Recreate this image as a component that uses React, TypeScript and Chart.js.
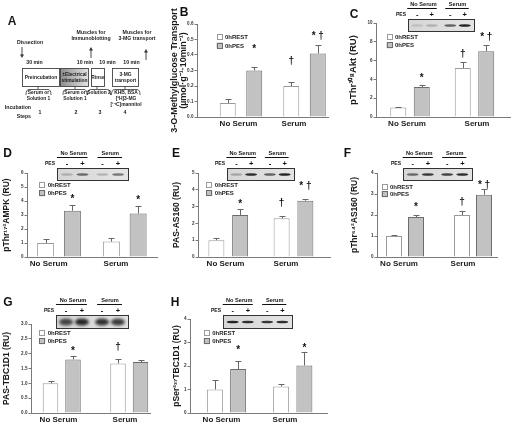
import React, { useEffect, useRef } from "react";
import { Chart, registerables } from "chart.js";
Chart.register(...registerables);

const FONT = "'Liberation Sans', Arial, sans-serif";

const CATEGORIES = ["No Serum", "Serum"];
const SERIES = ["0hREST", "0hPES"];
const PES_SIGNS = ["-", "+", "-", "+"];

// ---- Panel B : 3-O-methylglucose transport
const B_TICKS = ["0.0", "0.1", "0.2", "0.3", "0.4", "0.5", "0.6"];
const B_REST = [0.09, 0.2];
const B_REST_ERR = [0.025, 0.025];
const B_PES = [0.3, 0.41];
const B_PES_ERR = [0.025, 0.055];
const B_REST_SIG = ["", "†"];
const B_PES_SIG = ["*", "* †"];
const B_REST_SIG_AT = [0, 0.37];
const B_PES_SIG_AT = [0.45, 0.53];

// ---- Panel C : pThr308 Akt
const C_TICKS = ["0", "2", "4", "6", "8", "10"];
const C_REST = [1.0, 5.2];
const C_REST_ERR = [0.05, 0.7];
const C_PES = [3.2, 7.0];
const C_PES_ERR = [0.2, 0.7];
const C_REST_SIG = ["", "†"];
const C_PES_SIG = ["*", "* †"];
const C_REST_SIG_AT = [0, 6.8];
const C_PES_SIG_AT = [4.3, 8.6];
const C_BLOT = [0.12, 0.2, 0.6, 0.9];

// ---- Panel D : pThr172 AMPK
const D_TICKS = ["0", "1", "2", "3", "4", "5", "6"];
const D_REST = [1.0, 1.1];
const D_REST_ERR = [0.27, 0.27];
const D_PES = [3.3, 3.1];
const D_PES_ERR = [0.45, 0.55];
const D_REST_SIG = ["", ""];
const D_PES_SIG = ["*", "*"];
const D_REST_SIG_AT = [0, 0];
const D_PES_SIG_AT = [4.25, 4.15];
const D_BLOT = [0.2, 0.55, 0.2, 0.5];

// ---- Panel E : PAS-AS160
const E_TICKS = ["0", "1", "2", "3", "4", "5"];
const E_REST = [1.0, 2.3];
const E_REST_ERR = [0.15, 0.15];
const E_PES = [2.5, 3.35];
const E_PES_ERR = [0.35, 0.12];
const E_REST_SIG = ["", "†"];
const E_PES_SIG = ["*", "* †"];
const E_REST_SIG_AT = [0, 3.3];
const E_PES_SIG_AT = [3.2, 4.3];
const E_BLOT = [0.25, 0.85, 0.6, 0.9];

// ---- Panel F : pThr642 AS160
const F_TICKS = ["0", "1", "2", "3", "4"];
const F_REST = [1.0, 2.0];
const F_REST_ERR = [0.03, 0.2];
const F_PES = [1.9, 2.97];
const F_PES_ERR = [0.12, 0.28];
const F_REST_SIG = ["", "†"];
const F_PES_SIG = ["*", "* †"];
const F_REST_SIG_AT = [0, 2.7];
const F_PES_SIG_AT = [2.45, 3.5];
const F_BLOT = [0.55, 0.8, 0.75, 0.85];

// ---- Panel G : PAS-TBC1D1
const G_TICKS = ["0.0", "0.5", "1.0", "1.5", "2.0", "2.5", "3.0"];
const G_REST = [1.0, 1.67];
const G_REST_ERR = [0.07, 0.15];
const G_PES = [1.8, 1.72];
const G_PES_ERR = [0.13, 0.06];
const G_REST_SIG = ["", "†"];
const G_PES_SIG = ["*", ""];
const G_REST_SIG_AT = [0, 2.26];
const G_PES_SIG_AT = [2.12, 0];
const G_BLOT = [0.75, 0.9, 0.85, 0.8];

// ---- Panel H : pSer237 TBC1D1
const H_TICKS = ["0", "1", "2", "3", "4"];
const H_REST = [1.0, 1.13];
const H_REST_ERR = [0.42, 0.12];
const H_PES = [1.87, 2.02];
const H_PES_ERR = [0.35, 0.58];
const H_REST_SIG = ["", ""];
const H_PES_SIG = ["*", "*"];
const H_REST_SIG_AT = [0, 0];
const H_PES_SIG_AT = [2.75, 2.82];
const H_BLOT = [0.9, 0.85, 0.8, 0.85];

type Blot = { x: number; y: number; w: number; h: number; lanes: number[]; tall?: boolean };
type Panel = {
  letter: string;
  letterAt: [number, number];
  title: string[];
  titleSize: number;
  titleX: number;
  ticks: string[];
  rest: number[];
  restErr: number[];
  pes: number[];
  pesErr: number[];
  restSig: string[];
  pesSig: string[];
  restSigAt: number[];
  pesSigAt: number[];
  box: { L: number; R: number; T: number; B: number };
  bars: { c0: number; c1: number; d: number; w: number };
  labels: [number, number];
  legendAt: [number, number];
  legendGap: number;
  blot?: Blot;
};

const PANELS: Panel[] = [
  {
    letter: "B", letterAt: [184, 13],
    title: ["3-O-Methylglucose Transport", "(µmol·g⁻¹·10min⁻¹)"], titleSize: 9, titleX: 174.5,
    ticks: B_TICKS, rest: B_REST, restErr: B_REST_ERR, pes: B_PES, pesErr: B_PES_ERR,
    restSig: B_REST_SIG, pesSig: B_PES_SIG, restSigAt: B_REST_SIG_AT, pesSigAt: B_PES_SIG_AT,
    box: { L: 197, R: 328, T: 24, B: 117 }, bars: { c0: 241, c1: 304.5, d: 26.5, w: 16 },
    labels: [238.5, 294], legendAt: [219.5, 37], legendGap: 8.5,
  },
  {
    letter: "C", letterAt: [354, 15],
    title: ["pThr³⁰⁸Akt (RU)"], titleSize: 9.5, titleX: 353.5,
    ticks: C_TICKS, rest: C_REST, restErr: C_REST_ERR, pes: C_PES, pesErr: C_PES_ERR,
    restSig: C_REST_SIG, pesSig: C_PES_SIG, restSigAt: C_REST_SIG_AT, pesSigAt: C_PES_SIG_AT,
    box: { L: 376, R: 510, T: 23, B: 117 }, bars: { c0: 410, c1: 474.5, d: 23.5, w: 16 },
    labels: [407, 477], legendAt: [389.5, 37], legendGap: 8.3,
    blot: { x: 408, y: 19, w: 66, h: 12, lanes: C_BLOT },
  },
  {
    letter: "D", letterAt: [7.5, 154],
    title: ["pThr¹⁷²AMPK (RU)"], titleSize: 8.5, titleX: 7,
    ticks: D_TICKS, rest: D_REST, restErr: D_REST_ERR, pes: D_PES, pesErr: D_PES_ERR,
    restSig: D_REST_SIG, pesSig: D_PES_SIG, restSigAt: D_REST_SIG_AT, pesSigAt: D_PES_SIG_AT,
    box: { L: 27, R: 157, T: 173, B: 257 }, bars: { c0: 59, c1: 124.75, d: 26.75, w: 17 },
    labels: [48.7, 116], legendAt: [42.2, 185], legendGap: 8.3,
    blot: { x: 57, y: 168, w: 71, h: 12, lanes: D_BLOT },
  },
  {
    letter: "E", letterAt: [176, 154],
    title: ["PAS-AS160 (RU)"], titleSize: 8.5, titleX: 177,
    ticks: E_TICKS, rest: E_REST, restErr: E_REST_ERR, pes: E_PES, pesErr: E_PES_ERR,
    restSig: E_REST_SIG, pesSig: E_PES_SIG, restSigAt: E_REST_SIG_AT, pesSigAt: E_PES_SIG_AT,
    box: { L: 198, R: 330, T: 173, B: 257 }, bars: { c0: 228.25, c1: 293.5, d: 23.75, w: 16 },
    labels: [225.5, 286], legendAt: [209.3, 185], legendGap: 8,
    blot: { x: 227, y: 168, w: 67, h: 12, lanes: E_BLOT },
  },
  {
    letter: "F", letterAt: [347.5, 154],
    title: ["pThr⁶⁴²AS160 (RU)"], titleSize: 8.5, titleX: 355,
    ticks: F_TICKS, rest: F_REST, restErr: F_REST_ERR, pes: F_PES, pesErr: F_PES_ERR,
    restSig: F_REST_SIG, pesSig: F_PES_SIG, restSigAt: F_REST_SIG_AT, pesSigAt: F_PES_SIG_AT,
    box: { L: 377, R: 497, T: 173, B: 257 }, bars: { c0: 405, c1: 473, d: 22, w: 16 },
    labels: [399, 463], legendAt: [384.5, 186.7], legendGap: 7.5,
    blot: { x: 403, y: 168, w: 69, h: 12, lanes: F_BLOT },
  },
  {
    letter: "G", letterAt: [8, 303],
    title: ["PAS-TBC1D1 (RU)"], titleSize: 8.5, titleX: 7,
    ticks: G_TICKS, rest: G_REST, restErr: G_REST_ERR, pes: G_PES, pesErr: G_PES_ERR,
    restSig: G_REST_SIG, pesSig: G_PES_SIG, restSigAt: G_REST_SIG_AT, pesSigAt: G_PES_SIG_AT,
    box: { L: 31, R: 150, T: 324, B: 413 }, bars: { c0: 61.75, c1: 129.25, d: 22.5, w: 15.5 },
    labels: [58.5, 125], legendAt: [42.2, 332.5], legendGap: 8.7,
    blot: { x: 56, y: 315, w: 72, h: 13, lanes: G_BLOT, tall: true },
  },
  {
    letter: "H", letterAt: [175, 303],
    title: ["pSer²³⁷TBC1D1 (RU)"], titleSize: 8.5, titleX: 177,
    ticks: H_TICKS, rest: H_REST, restErr: H_REST_ERR, pes: H_PES, pesErr: H_PES_ERR,
    restSig: H_REST_SIG, pesSig: H_PES_SIG, restSigAt: H_REST_SIG_AT, pesSigAt: H_PES_SIG_AT,
    box: { L: 190, R: 327, T: 319, B: 413 }, bars: { c0: 226.5, c1: 292.75, d: 23.25, w: 16 },
    labels: [221.5, 285], legendAt: [206.7, 332.5], legendGap: 8.7,
    blot: { x: 223, y: 315, w: 69, h: 13, lanes: H_BLOT },
  },
];

const REST_FILL = "#ffffff";
const REST_LINE = "#9a9a9a";
const PES_FILL = "#c2c2c2";
const PES_LINE = "#6c6c6c";
const AXIS = "#7a7a7a";

function decor(p: Panel) {
  return {
    id: "decor" + p.letter,
    afterDatasetsDraw(chart: any) {
      const ctx: CanvasRenderingContext2D = chart.ctx;
      const ys = chart.scales.y;
      const sets: [number[], number[], string[], number[]][] = [
        [p.rest, p.restErr, p.restSig, p.restSigAt],
        [p.pes, p.pesErr, p.pesSig, p.pesSigAt],
      ];
      ctx.save();
      sets.forEach(([vals, errs, sig, at], di) => {
        const meta = chart.getDatasetMeta(di);
        meta.data.forEach((el: any, j: number) => {
          const x = Math.round(el.x) + 0.5;
          const top = Math.round(ys.getPixelForValue(vals[j] + errs[j])) + 0.5;
          ctx.strokeStyle = "#666";
          ctx.lineWidth = 1;
          ctx.beginPath();
          ctx.moveTo(x, el.y);
          ctx.lineTo(x, top);
          ctx.moveTo(x - 3, top);
          ctx.lineTo(x + 3, top);
          ctx.stroke();
          if (sig[j]) {
            ctx.fillStyle = "#111";
            ctx.font = `bold 10px ${FONT}`;
            ctx.textAlign = "center";
            ctx.textBaseline = "middle";
            ctx.fillText(sig[j], el.x, ys.getPixelForValue(at[j]) + 1.5);
          }
        });
      });
      ctx.restore();
    },
    afterDraw(chart: any) {
      const ctx: CanvasRenderingContext2D = chart.ctx;
      ctx.save();
      // blot + header
      if (p.blot) {
        const b = p.blot;
        const lanes = [0.14, 0.36, 0.64, 0.86].map((f) => b.x + f * b.w);
        ctx.fillStyle = "#111";
        ctx.font = `bold 5.6px ${FONT}`;
        ctx.textAlign = "center";
        ctx.textBaseline = "middle";
        ctx.fillText(CATEGORIES[0], (lanes[0] + lanes[1]) / 2 - 1, b.y - 15);
        ctx.fillText(CATEGORIES[1], (lanes[2] + lanes[3]) / 2, b.y - 15);
        ctx.strokeStyle = "#111";
        ctx.lineWidth = 1;
        ctx.beginPath();
        ctx.moveTo(lanes[0] - 10, b.y - 10.5);
        ctx.lineTo(lanes[1] + 5, b.y - 10.5);
        ctx.moveTo(lanes[2] - 5, b.y - 10.5);
        ctx.lineTo(lanes[3] + 4, b.y - 10.5);
        ctx.stroke();
        ctx.font = `bold 5px ${FONT}`;
        ctx.textAlign = "right";
        ctx.fillText("PES", b.x - 2, b.y - 4);
        ctx.font = `bold 7.5px ${FONT}`;
        ctx.textAlign = "center";
        PES_SIGNS.forEach((s, i) => ctx.fillText(s, lanes[i], b.y - 4.5));
        // film
        const g = ctx.createLinearGradient(b.x, 0, b.x + b.w, 0);
        g.addColorStop(0, "#d6d6d6");
        g.addColorStop(1, "#e4e4e4");
        ctx.fillStyle = g;
        ctx.fillRect(b.x, b.y, b.w, b.h);
        ctx.save();
        ctx.beginPath();
        ctx.rect(b.x, b.y, b.w, b.h);
        ctx.clip();
        ctx.filter = b.tall ? "blur(1.4px)" : "blur(0.7px)";
        b.lanes.forEach((k, i) => {
          ctx.fillStyle = `rgba(15,15,15,${k})`;
          ctx.beginPath();
          ctx.ellipse(lanes[i], b.y + b.h / 2 + 0.5, b.tall ? 7 : 6, b.tall ? 3.6 : 1.3, 0, 0, Math.PI * 2);
          ctx.fill();
        });
        ctx.restore();
        ctx.strokeStyle = "#333";
        ctx.strokeRect(b.x + 0.5, b.y + 0.5, b.w, b.h);
      }
      // legend
      const [lx, ly] = p.legendAt;
      chart.data.datasets.forEach((ds: any, i: number) => {
        const cy = ly + i * p.legendGap;
        ctx.fillStyle = ds.backgroundColor;
        ctx.fillRect(lx - 3, cy - 3, 6, 6);
        ctx.strokeStyle = ds.borderColor;
        ctx.lineWidth = 1;
        ctx.strokeRect(Math.round(lx - 3) + 0.5, Math.round(cy - 3) + 0.5, 5, 5);
        ctx.fillStyle = "#222";
        ctx.font = `bold 6px ${FONT}`;
        ctx.textAlign = "left";
        ctx.textBaseline = "middle";
        ctx.fillText(ds.label, lx + 5.5, cy + 0.5);
      });
      // letter
      ctx.fillStyle = "#111";
      ctx.font = `bold 12px ${FONT}`;
      ctx.textAlign = "center";
      ctx.textBaseline = "middle";
      ctx.fillText(p.letter, p.letterAt[0], p.letterAt[1]);
      ctx.restore();
    },
  };
}

function makeConfig(p: Panel): any {
  const unit = p.bars.c1 - p.bars.c0;
  const xMin = (p.box.L - p.bars.c0) / unit;
  const xMax = 1 + (p.box.R - p.bars.c1) / unit;
  const lu = p.labels[1] - p.labels[0];
  const lMin = (p.box.L - p.labels[0]) / lu;
  const lMax = 1 + (p.box.R - p.labels[1]) / lu;
  const cat = (2 * p.bars.d) / unit;
  const barPct = p.bars.w / p.bars.d;
  const padLeft = p.titleX - p.titleSize / 2;
  const labelH = Math.min(12, 422 - p.box.B);
  const tickVals = p.ticks.map(Number);
  const twoTicks = (s: any) => {
    s.ticks = [{ value: 0 }, { value: 1 }];
  };
  return {
    type: "bar",
    data: {
      datasets: [
        {
          label: SERIES[0],
          data: p.rest.map((v, i) => ({ x: i, y: v })),
          backgroundColor: REST_FILL,
          borderColor: REST_LINE,
          borderWidth: 1,
          categoryPercentage: cat,
          barPercentage: barPct,
          xAxisID: "x",
          yAxisID: "y",
        },
        {
          label: SERIES[1],
          data: p.pes.map((v, i) => ({ x: i, y: v })),
          backgroundColor: PES_FILL,
          borderColor: PES_LINE,
          borderWidth: 1,
          categoryPercentage: cat,
          barPercentage: barPct,
          xAxisID: "x",
          yAxisID: "y",
        },
      ],
    },
    options: {
      responsive: false,
      animation: false,
      events: [],
      layout: {
        padding: { left: padLeft, top: p.box.T, right: 512 - p.box.R, bottom: 422 - p.box.B - labelH },
      },
      plugins: { legend: { display: false }, tooltip: { enabled: false } },
      scales: {
        x: {
          type: "linear",
          position: "bottom",
          offset: false,
          min: xMin,
          max: xMax,
          afterBuildTicks: twoTicks,
          ticks: { display: false },
          grid: { display: false, drawTicks: false, offset: false },
          border: { display: true, color: AXIS, width: 1 },
          afterFit: (s: any) => {
            s.height = 0;
          },
        },
        xl: {
          type: "linear",
          position: "bottom",
          offset: false,
          weight: 1,
          min: lMin,
          max: lMax,
          afterBuildTicks: twoTicks,
          ticks: {
            callback: (v: number) => CATEGORIES[v],
            font: { family: FONT, size: 8, weight: "bold" },
            color: "#1a1a1a",
            padding: 2,
            maxRotation: 0,
            autoSkip: false,
          },
          grid: { display: false, drawTicks: false, offset: false },
          border: { display: false },
          afterFit: (s: any) => {
            s.height = labelH;
          },
        },
        y: {
          type: "linear",
          position: "left",
          min: 0,
          max: tickVals[tickVals.length - 1],
          afterBuildTicks: (s: any) => {
            s.ticks = tickVals.map((v) => ({ value: v }));
          },
          ticks: {
            callback: (_v: number, i: number) => p.ticks[i],
            font: { family: FONT, size: 4.6, weight: "bold" },
            color: "#333",
            padding: 1,
          },
          grid: { drawOnChartArea: false, drawTicks: true, tickLength: 2.5, color: AXIS },
          border: { color: AXIS, width: 1 },
          title: {
            display: true,
            text: p.title,
            font: { family: FONT, size: p.titleSize, weight: "bold", lineHeight: 1 },
            color: "#1a1a1a",
            padding: 0,
          },
          afterFit: (s: any) => {
            s.width = p.box.L - padLeft;
          },
        },
      },
    },
    plugins: [decor(p)],
  };
}

function PanelChart({ p }: { p: Panel }) {
  const ref = useRef<HTMLCanvasElement | null>(null);
  useEffect(() => {
    if (!ref.current) return;
    const chart = new Chart(ref.current, makeConfig(p));
    return () => chart.destroy();
  }, [p]);
  return (
    <canvas
      ref={ref}
      width={512}
      height={422}
      style={{ position: "absolute", left: 0, top: 0, width: 512, height: 422 }}
    />
  );
}

// Panel A: protocol diagram (drawn on a plain 2D canvas)
function drawPanelA(ctx: CanvasRenderingContext2D) {
  const ink = "#1a1a1a";
  ctx.clearRect(0, 0, 175, 125);
  ctx.textBaseline = "middle";
  const T = (x: number, y: number, s: string, size = 5.2, align: CanvasTextAlign = "center") => {
    ctx.fillStyle = ink;
    ctx.font = `bold ${size}px ${FONT}`;
    ctx.textAlign = align;
    ctx.fillText(s, x, y);
  };
  const arrow = (x: number, y0: number, y1: number) => {
    // from y0 to y1, head at y1
    const dir = y1 > y0 ? 1 : -1;
    ctx.strokeStyle = "#333";
    ctx.lineWidth = 0.9;
    ctx.beginPath();
    ctx.moveTo(x, y0);
    ctx.lineTo(x, y1 - dir * 3);
    ctx.stroke();
    ctx.fillStyle = "#333";
    ctx.beginPath();
    ctx.moveTo(x - 2, y1 - dir * 3.5);
    ctx.lineTo(x + 2, y1 - dir * 3.5);
    ctx.lineTo(x, y1);
    ctx.closePath();
    ctx.fill();
  };
  const box = (x: number, w: number, fill: string | CanvasGradient) => {
    ctx.fillStyle = fill;
    ctx.fillRect(x, 68.5, w, 18);
    ctx.strokeStyle = "#444";
    ctx.lineWidth = 0.9;
    ctx.strokeRect(x + 0.5, 68.5, w, 18);
  };
  const bracket = (x0: number, x1: number, c: number) => {
    ctx.strokeStyle = "#333";
    ctx.lineWidth = 0.8;
    ctx.beginPath();
    ctx.moveTo(c, 86.5);
    ctx.lineTo(c, 89.5);
    ctx.moveTo(x0, 95);
    ctx.quadraticCurveTo(x0, 89.5, x0 + 3, 89.5);
    ctx.lineTo(x1 - 3, 89.5);
    ctx.quadraticCurveTo(x1, 89.5, x1, 95);
    ctx.stroke();
  };

  T(12, 22, "A", 12);
  T(30, 43, "Dissection");
  arrow(22, 47, 58);
  T(91, 33, "Muscles for");
  T(91, 39, "Immunoblotting");
  arrow(91, 58, 47);
  T(137, 33, "Muscles for");
  T(137, 39, "3-MG transport");
  arrow(146, 60, 49);
  T(34.5, 63, "30 min");
  T(85, 63, "10 min");
  T(107.5, 63, "10 min");
  T(131.5, 63, "10 min");

  box(22, 37, "#fff");
  const g = ctx.createLinearGradient(60, 0, 89, 0);
  g.addColorStop(0, "#8c8c8c");
  g.addColorStop(1, "#e6e6e6");
  box(60, 28, g);
  box(91, 13, "#fff");
  box(112, 26, "#fff");
  T(41, 77.5, "Preincubation", 4.9);
  T(74.5, 74.5, "±Electrical", 4.9);
  T(74.5, 80.5, "stimulation", 4.9);
  T(98, 77.5, "Rinse", 4.9);
  T(125.5, 74.5, "3-MG", 4.9);
  T(125.5, 80.5, "transport", 4.9);

  bracket(26, 51, 38);
  bracket(63, 87, 75);
  bracket(87.5, 110.5, 97);
  bracket(111.5, 140, 125);
  T(38.5, 92.5, "Serum or", 4.9);
  T(38.5, 98.5, "Solution 1", 4.9);
  T(75, 92.5, "Serum or", 4.9);
  T(75, 98.5, "Solution 1", 4.9);
  T(99, 92.5, "Solution 2", 4.9);
  T(126, 92.5, "KHB, BSA", 4.9);
  T(126, 98.5, "[³H]3-MG", 4.9);
  T(126, 104.5, "[¹⁴C]mannitol", 4.9);

  T(31, 108, "Incubation", 5.2, "right");
  T(31, 116.5, "Steps", 5.2, "right");
  T(40, 113, "1");
  T(76, 113, "2");
  T(100, 113, "3");
  T(125, 113, "4");
}

function PanelA() {
  const ref = useRef<HTMLCanvasElement | null>(null);
  useEffect(() => {
    const c = ref.current;
    if (!c) return;
    const ctx = c.getContext("2d");
    if (ctx) drawPanelA(ctx);
  }, []);
  return (
    <canvas
      ref={ref}
      width={175}
      height={125}
      style={{ position: "absolute", left: 0, top: 0, width: 175, height: 125 }}
    />
  );
}

export default function App() {
  return (
    <div
      style={{
        position: "fixed",
        left: 0,
        top: 0,
        width: 512,
        height: 422,
        background: "#fff",
        overflow: "hidden",
      }}
    >
      <PanelA />
      {PANELS.map((p) => (
        <PanelChart key={p.letter} p={p} />
      ))}
    </div>
  );
}
